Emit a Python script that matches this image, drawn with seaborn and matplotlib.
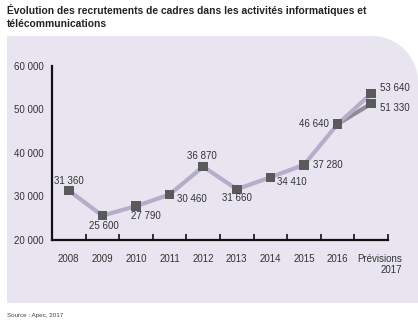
import numpy as np
import pandas as pd
import matplotlib
matplotlib.use("Agg")
import matplotlib.pyplot as plt
import matplotlib.patches as mpatches
import matplotlib.transforms as mtransforms
import seaborn as sns

# ---- data ----
years = ["2008", "2009", "2010", "2011", "2012", "2013", "2014", "2015", "2016", "Prévisions\n2017"]
recrutements = [31360, 25600, 27790, 30460, 36870, 31660, 34410, 37280, 46640, 53640]
alt_years = ["2016", "Prévisions\n2017"]
alt_recrutements = [46640, 51330]
yticks = [20000, 30000, 40000, 50000, 60000]
ytick_labels = ["20 000", "30 000", "40 000", "50 000", "60 000"]
title = "Évolution des recrutements de cadres dans les activités informatiques et\ntélécommunications"
source = "Source : Apec, 2017"

sns.set_theme(style="white")
plt.rcParams["font.family"] = ["Liberation Sans", "DejaVu Sans"]

W, H = 418, 331
fig = plt.figure(figsize=(W / 100, H / 100), dpi=100)
fig.patch.set_facecolor("white")

# background panel with rounded top-right corner (pixel coords -> figure fraction)
x0, x1, y0, y1, r = 7, 418, 36, 303, 46
th = np.linspace(np.pi / 2, 0, 30)
pts = [(x0, y1), (x0, y0), (x1 - r, y0)]
pts += [(x1 - r + r * np.cos(t), y0 + r - r * np.sin(t)) for t in th]
pts += [(x1, y1), (x0, y1)]
pts = [(px / W, 1 - py / H) for px, py in pts]
panel = mpatches.Polygon(pts, closed=True, transform=fig.transFigure,
                         facecolor="#e8e5f1", edgecolor="none", zorder=-10)
fig.patches.append(panel)

ax = fig.add_axes([52 / W, 1 - 240 / H, (388 - 52) / W, (240 - 66) / H])
ax.set_facecolor("none")
ax.set_zorder(1)

xpos = list(range(len(years)))
df = pd.DataFrame({"x": xpos, "v": recrutements})
df_alt = pd.DataFrame({"x": [years.index(y) for y in alt_years], "v": alt_recrutements})

sns.lineplot(data=df_alt, x="x", y="v", ax=ax, color="#8e8b96", linewidth=3.0, zorder=2)
sns.lineplot(data=df, x="x", y="v", ax=ax, color="#b6adc8", linewidth=3.0, zorder=3)
sns.scatterplot(data=pd.concat([df, df_alt]), x="x", y="v", ax=ax, marker="s", s=46,
                color="#5a5a5c", edgecolor="none", linewidth=0, zorder=4)

# value labels (offsets in points, ha)
label_style = [
    ((0, 7), "center"), ((1, -7.5), "center"), ((7, -7), "center"), ((5, -3), "left"),
    ((-1, 7.5), "center"), ((0, -6), "center"), ((5, -3.5), "left"), ((6.5, 0), "left"),
    ((-6.5, 0), "right"), ((6, 4), "left"),
]
for i, (v, (off, ha)) in enumerate(zip(recrutements, label_style)):
    ax.annotate(f"{v:,}".replace(",", " "), (xpos[i], v), xytext=off,
                textcoords="offset points", ha=ha, va="center", fontsize=7,
                color="#333333", zorder=5)
ax.annotate(f"{alt_recrutements[1]:,}".replace(",", " "),
            (years.index(alt_years[1]), alt_recrutements[1]), xytext=(6, -3),
            textcoords="offset points", ha="left", va="center", fontsize=7,
            color="#333333", zorder=5)

ax.set_xlim(-0.5, len(years) - 0.5)
ax.set_ylim(20000, 60000)
ax.set_xticks(xpos)
ax.set_xticklabels(years, fontsize=7, color="#333333")
ax.set_xticks([i + 0.5 for i in xpos], minor=True)
ax.tick_params(axis="x", which="both", bottom=True)
ax.tick_params(axis="x", which="major", length=0, pad=10)
ax.tick_params(axis="x", which="minor", length=4, width=1.2, direction="in", color="#111111")
ax.set_yticks(yticks)
ax.set_yticklabels(ytick_labels, fontsize=7, color="#333333")
ax.tick_params(axis="y", length=0, pad=6)
ax.set_xlabel("")
ax.set_ylabel("")
for lab in ax.get_xticklabels():
    lab.set_multialignment("right")
last = ax.get_xticklabels()[-1]
last.set_transform(last.get_transform() + mtransforms.ScaledTranslation(8 / 100, 0, fig.dpi_scale_trans))

for s in ["top", "right"]:
    ax.spines[s].set_visible(False)
for s in ["left", "bottom"]:
    ax.spines[s].set_visible(True)
    ax.spines[s].set_color("#111111")
    ax.spines[s].set_linewidth(1.6)

fig.text(7 / W, 1 - 4 / H, title, ha="left", va="top", fontsize=7.4,
         fontweight="bold", color="#222222", linespacing=1.4)
fig.text(7 / W, 1 - 316 / H, source, ha="left", va="center", fontsize=4.5, color="#444444")

fig.savefig("out.png", dpi=100)
